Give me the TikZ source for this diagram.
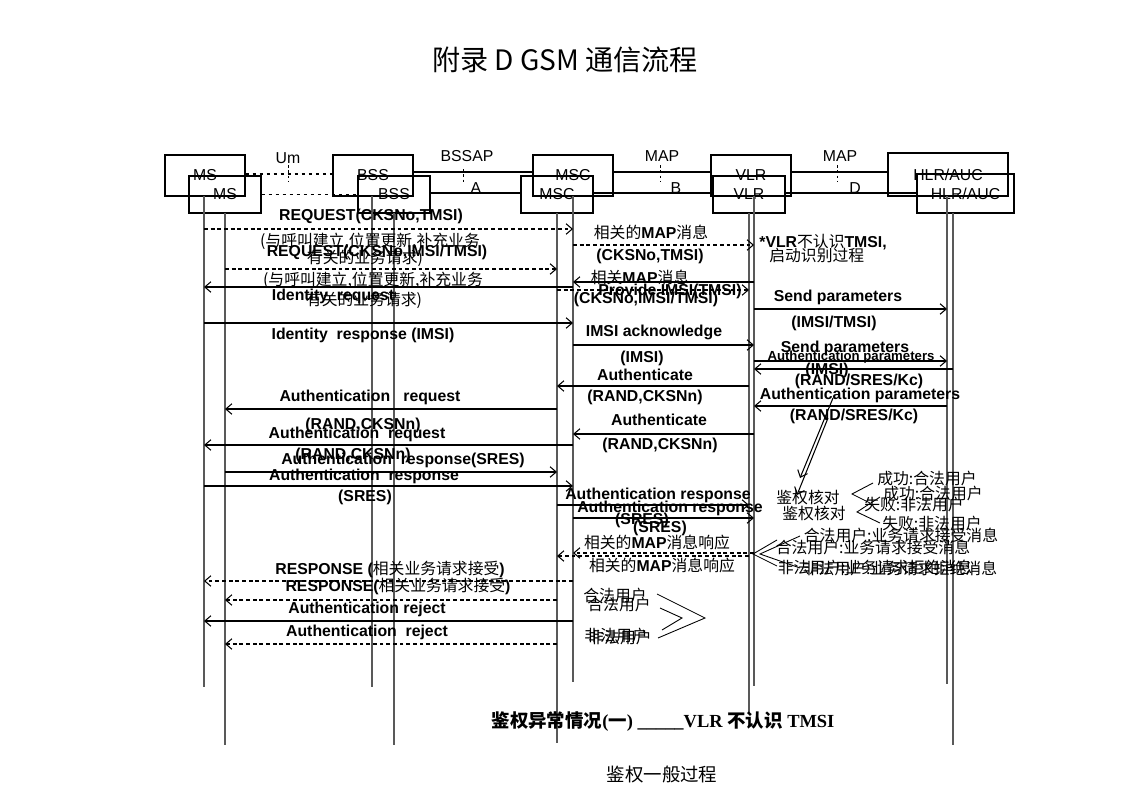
\documentclass[tikz,border=0pt]{standalone}
\usepackage{fontspec}
\setmainfont{Liberation Sans}
\newfontfamily\zhfont{Noto Sans CJK SC}
\newfontfamily\capfont{Liberation Serif}
\usetikzlibrary{arrows.meta}
\newcommand\zh[1]{{\zhfont\mdseries #1}}

\begin{document}
\begin{tikzpicture}[x=0.02cm,y=-0.02cm,
  >={Straight Barb[length=3.5pt,width=6pt]},
  every node/.style={inner sep=0pt},
  ent/.style={draw,line width=0.6pt,minimum width=1.6cm,minimum height=0.82cm,font=\fontsize{9}{10}\selectfont},
  entb/.style={ent,minimum width=1.44cm,minimum height=0.74cm},
  life/.style={black!65,line width=0.7pt},
  itf/.style={line width=0.6pt},
  tick/.style={line width=0.5pt,dash pattern=on 1.5pt off 1.5pt},
  msg/.style={->,line width=0.6pt},
  dmsg/.style={msg,dash pattern=on 2.2pt off 1.6pt},
  lbl/.style={font=\fontsize{9}{10}\selectfont\bfseries},
  sml/.style={font=\fontsize{7.5}{8}\selectfont\bfseries},
  reg/.style={font=\fontsize{9}{10}\selectfont},
]
\useasboundingbox (0,0) rectangle (1134,808);

% title
\node[font=\fontsize{16}{18}\selectfont\zhfont] (title) at (565,60) {附录 D GSM 通信流程};

% network elements (two layers)
\node[ent] (msT) at (205,175.5) {MS};
\node[ent] (bssT) at (373,175.5) {BSS};
\node[ent] (mscT) at (573,175.5) {MSC};
\node[ent] (vlrT) at (751,175.5) {VLR};
\node[ent,minimum width=2.4cm,minimum height=0.86cm] (hlrT) at (948,174.5) {HLR/AUC};
\node[entb] (msB) at (225,194.5) {MS};
\node[entb] (bssB) at (394,194.5) {BSS};
\node[entb] (mscB) at (557,194.5) {MSC};
\node[entb] (vlrB) at (749,194.5) {VLR};
\node[entb,minimum width=1.94cm,minimum height=0.78cm] (hlrB) at (965.5,193.5) {HLR/AUC};

% interfaces
\draw[itf,dash pattern=on 2pt off 2pt] (msT.east |- 0,174) -- (bssT.west |- 0,174);
\draw[itf] (bssT.east |- 0,172) -- (mscT.west |- 0,172);
\draw[itf] (mscT.east |- 0,172) -- (vlrT.west |- 0,172);
\draw[itf] (vlrT.east |- 0,172) -- (hlrT.west |- 0,172);
\draw[itf,dash pattern=on 2pt off 2pt] (msB) -- (bssB);
\draw[itf] (bssB.east |- 0,193) -- (mscB.west |- 0,193);
\draw[itf] (mscB.east |- 0,193) -- (vlrB.west |- 0,193);
\draw[itf] (vlrB.east |- 0,193) -- (hlrB.west |- 0,193);
\draw[tick] (288,165) -- (288,182);
\draw[tick] (463,169) -- (463,183);
\draw[tick] (660,165) -- (660,182);
\draw[tick] (837,165) -- (837,182);
\node[reg] (um) at (288,158) {Um};
\node[reg] (bssap) at (467,156) {BSSAP};
\node[reg] (map1) at (662,156) {MAP};
\node[reg] (map2) at (840,156) {MAP};
\node[reg] (ifA) at (476,188) {A};
\node[reg] (ifB) at (676,188) {B};
\node[reg] (ifD) at (855,188) {D};

% lifelines
\coordinate (msA) at (204,196);   \coordinate (msAe) at (204,687);
\coordinate (bssA) at (372,196);  \coordinate (bssAe) at (372,687);
\coordinate (mscA) at (573,196);  \coordinate (mscAe) at (573,682);
\coordinate (vlrA) at (754,196);  \coordinate (vlrAe) at (754,686);
\coordinate (hlrA) at (947,196);  \coordinate (hlrAe) at (947,684);
\coordinate (msBl) at (225,213);  \coordinate (msBe) at (225,745);
\coordinate (bssBl) at (394,213); \coordinate (bssBe) at (394,745);
\coordinate (mscBl) at (557,213); \coordinate (mscBe) at (557,743);
\coordinate (vlrBl) at (749,213); \coordinate (vlrBe) at (749,714);
\coordinate (hlrBl) at (953,213); \coordinate (hlrBe) at (953,745);
\draw[life] (msA) -- (msAe);
\draw[life] (bssA) -- (bssAe);
\draw[life] (mscA) -- (mscAe);
\draw[life] (vlrA) -- (vlrAe);
\draw[life] (hlrA) -- (hlrAe);
\draw[life] (msBl) -- (msBe);
\draw[life] (bssBl) -- (bssBe);
\draw[life] (mscBl) -- (mscBe);
\draw[life] (vlrBl) -- (vlrBe);
\draw[life] (hlrBl) -- (hlrBe);

% MS <-> MSC
\draw[dmsg] (msA |- 0,229) -- (mscA |- 0,229);
\node[lbl] (req1) at (371,216) {REQUEST(CKSNo,TMSI)};
\node[reg] (req1a) at (370,241) {\zh{(与呼叫建立,位置更新,补充业务}};
\node[reg] (req1b) at (365,258) {\zh{有关的业务请求)}};
\draw[dmsg] (msBl |- 0,269) -- (mscBl |- 0,269);
\node[lbl] (req2) at (377,252) {REQUEST(CKSNo,IMSI/TMSI)};
\node[reg] (req2a) at (373,280) {\zh{(与呼叫建立,位置更新,补充业务}};
\node[reg] (req2b) at (364,300) {\zh{有关的业务请求)}};
\draw[msg] (mscA |- 0,287) -- (msA |- 0,287);
\node[lbl] (idreq) at (333,296) {Identity\ \ request};
\draw[msg] (msA |- 0,323) -- (mscA |- 0,323);
\node[lbl] (idrsp) at (363,335) {Identity\ \ response (IMSI)};
\draw[msg] (mscBl |- 0,409) -- (msBl |- 0,409);
\node[lbl] (aureq1) at (370,397) {Authentication\ \ \ request};
\node[lbl] (aureq1a) at (363,425) {(RAND,CKSNn)};
\draw[msg] (mscA |- 0,445) -- (msA |- 0,445);
\node[lbl] (aureq2) at (357,434) {Authentication\ \ request};
\node[lbl] (aureq2a) at (353,455) {(RAND,CKSNn)};
\draw[msg] (msBl |- 0,472) -- (mscBl |- 0,472);
\node[lbl] (aursp1) at (403,460) {Authentication\ \ response(SRES)};
\draw[msg] (msA |- 0,486) -- (mscA |- 0,486);
\node[lbl] (aursp2) at (364,476) {Authentication\ \ response};
\node[lbl] (aursp2a) at (365,497) {(SRES)};
\draw[dmsg] (mscA |- 0,581) -- (msA |- 0,581);
\node[lbl] (rsp1) at (390,569) {RESPONSE (\zh{相关业务请求接受})};
\draw[dmsg] (mscBl |- 0,600) -- (msBl |- 0,600);
\node[lbl] (rsp2) at (398,586) {RESPONSE(\zh{相关业务请求接受})};
\draw[msg] (mscA |- 0,621) -- (msA |- 0,621);
\node[lbl] (rej1) at (367,609) {Authentication reject};
\draw[dmsg] (mscBl |- 0,644) -- (msBl |- 0,644);
\node[lbl] (rej2) at (367,632) {Authentication\ \ reject};

% MSC <-> VLR
\draw[dmsg] (mscA |- 0,245) -- (vlrA |- 0,245);
\node[lbl] (map1a) at (651,232) {\zh{相关的}MAP\zh{消息}};
\node[lbl] (map1b) at (650,256) {(CKSNo,TMSI)};
\node[lbl,anchor=west] (note1) at (759,242) {*VLR\zh{不认识}TMSI,};
\node[reg,anchor=west] (note2) at (769,256) {\zh{启动识别过程}};
\draw[msg] (vlrA |- 0,282) -- (mscA |- 0,282);
\node[lbl] (prov) at (670,291) {Provide IMSI(TMSI)};
\draw[dmsg] (mscBl |- 0,290) -- (vlrBl |- 0,290);
\node[lbl] (map2a) at (640,277) {\zh{相关}MAP\zh{消息}};
\node[lbl] (map2b) at (646,299) {(CKSNo,IMSI/TMSI)};
\draw[msg] (mscA |- 0,345) -- (vlrA |- 0,345);
\node[lbl] (imack) at (654,332) {IMSI acknowledge};
\node[lbl] (imacka) at (642,358) {(IMSI)};
\draw[msg] (vlrBl |- 0,386) -- (mscBl |- 0,386);
\node[lbl] (auth1) at (645,375) {Authenticate};
\node[lbl] (auth1a) at (645,397) {(RAND,CKSNn)};
\draw[msg] (vlrA |- 0,434) -- (mscA |- 0,434);
\node[lbl] (auth2) at (659,420) {Authenticate};
\node[lbl] (auth2a) at (660,445) {(RAND,CKSNn)};
\draw[msg] (mscBl |- 0,505) -- (vlrBl |- 0,505);
\node[lbl] (aurs1) at (658,495) {Authentication response};
\node[lbl] (aurs1a) at (642,520) {(SRES)};
\draw[msg] (mscA |- 0,518) -- (vlrA |- 0,518);
\node[lbl] (aurs2) at (670,508) {Authentication response};
\node[lbl] (aurs2a) at (660,528) {(SRES)};
\draw[dmsg] (vlrA |- 0,553) -- (mscA |- 0,553);
\draw[dmsg] (vlrBl |- 0,556) -- (mscBl |- 0,556);
\node[lbl] (mapr1) at (657,542) {\zh{相关的}MAP\zh{消息响应}};
\node[lbl] (mapr2) at (662,565) {\zh{相关的}MAP\zh{消息响应}};

% VLR <-> HLR/AUC
\draw[msg] (vlrA |- 0,309) -- (hlrA |- 0,309);
\node[lbl] (sp1) at (838,297) {Send parameters};
\node[lbl] (sp1a) at (834,323) {(IMSI/TMSI)};
\draw[msg] (vlrA |- 0,361) -- (hlrA |- 0,361);
\node[lbl] (sp2) at (845,348) {Send parameters};
\node[lbl] (sp2a) at (827,370) {(IMSI)};
\draw[msg] (hlrBl |- 0,369) -- (vlrA |- 0,369);
\node[sml] (ap1) at (851,357) {Authentication parameters};
\node[lbl] (ap1a) at (859,381) {(RAND/SRES/Kc)};
\draw[msg] (hlrA |- 0,406) -- (vlrA |- 0,406);
\node[lbl] (ap2) at (860,395) {Authentication parameters};
\node[lbl] (ap2a) at (854,416) {(RAND/SRES/Kc)};

% authentication check in VLR
\node[reg] (chk1) at (808,497) {\zh{鉴权核对}};
\node[reg] (chk2) at (814,513) {\zh{鉴权核对}};
\coordinate (chkA) at (833,398);
\coordinate (chkB) at (828,418);
\draw[msg] (chkA) -- (800,478);
\draw[msg] (chkB) -- (797,495);
\node[reg] (ok1) at (927,479) {\zh{成功:合法用户}};
\node[reg] (ok2) at (933,494) {\zh{成功:合法用户}};
\node[reg] (ng1) at (914,504) {\zh{失败:非法用户}};
\node[reg] (ng2) at (932,523) {\zh{失败:非法用户}};
\draw[line width=0.5pt] (873,483) -- (852,494) -- (870,503);
\draw[line width=0.5pt] (880,497) -- (857,512) -- (880,523);
\node[reg] (acc1) at (901,535) {\zh{合法用户:业务请求接受消息}};
\node[reg] (acc2) at (873,547) {\zh{合法用户:业务请求接受消息}};
\node[reg] (dny1) at (875,567) {\zh{非法用户:业务请求拒绝消息}};
\node[reg] (dny2) at (900,568) {\zh{非法用户:业务请求拒绝消息}};
\draw[line width=0.5pt] (777,540) -- (753,554) -- (777,566);
\draw[line width=0.5pt] (800,536) -- (760,554) -- (800,568);

% legal / illegal user
\node[reg] (lg1) at (615,595) {\zh{合法用户}};
\node[reg] (lg2) at (619,604) {\zh{合法用户}};
\node[reg] (il1) at (616,635) {\zh{非法用户}};
\node[reg] (il2) at (620,637) {\zh{非法用户}};
\draw[line width=0.5pt] (657,594) -- (705,618) -- (658,638);
\draw[line width=0.5pt] (660,608) -- (682,618) -- (662,630);

% captions
\node[font=\fontsize{10.5}{12}\selectfont\bfseries] (cap1) at (663,722)
  {{\zhfont 鉴权异常情况}{\capfont(}{\zhfont 一}{\capfont) \_\_\_\_\_VLR }{\zhfont 不认识}{\capfont\ TMSI}};
\node[font=\fontsize{10.5}{12}\selectfont\zhfont] (cap2) at (662,775) {鉴权一般过程};
\end{tikzpicture}
\end{document}
